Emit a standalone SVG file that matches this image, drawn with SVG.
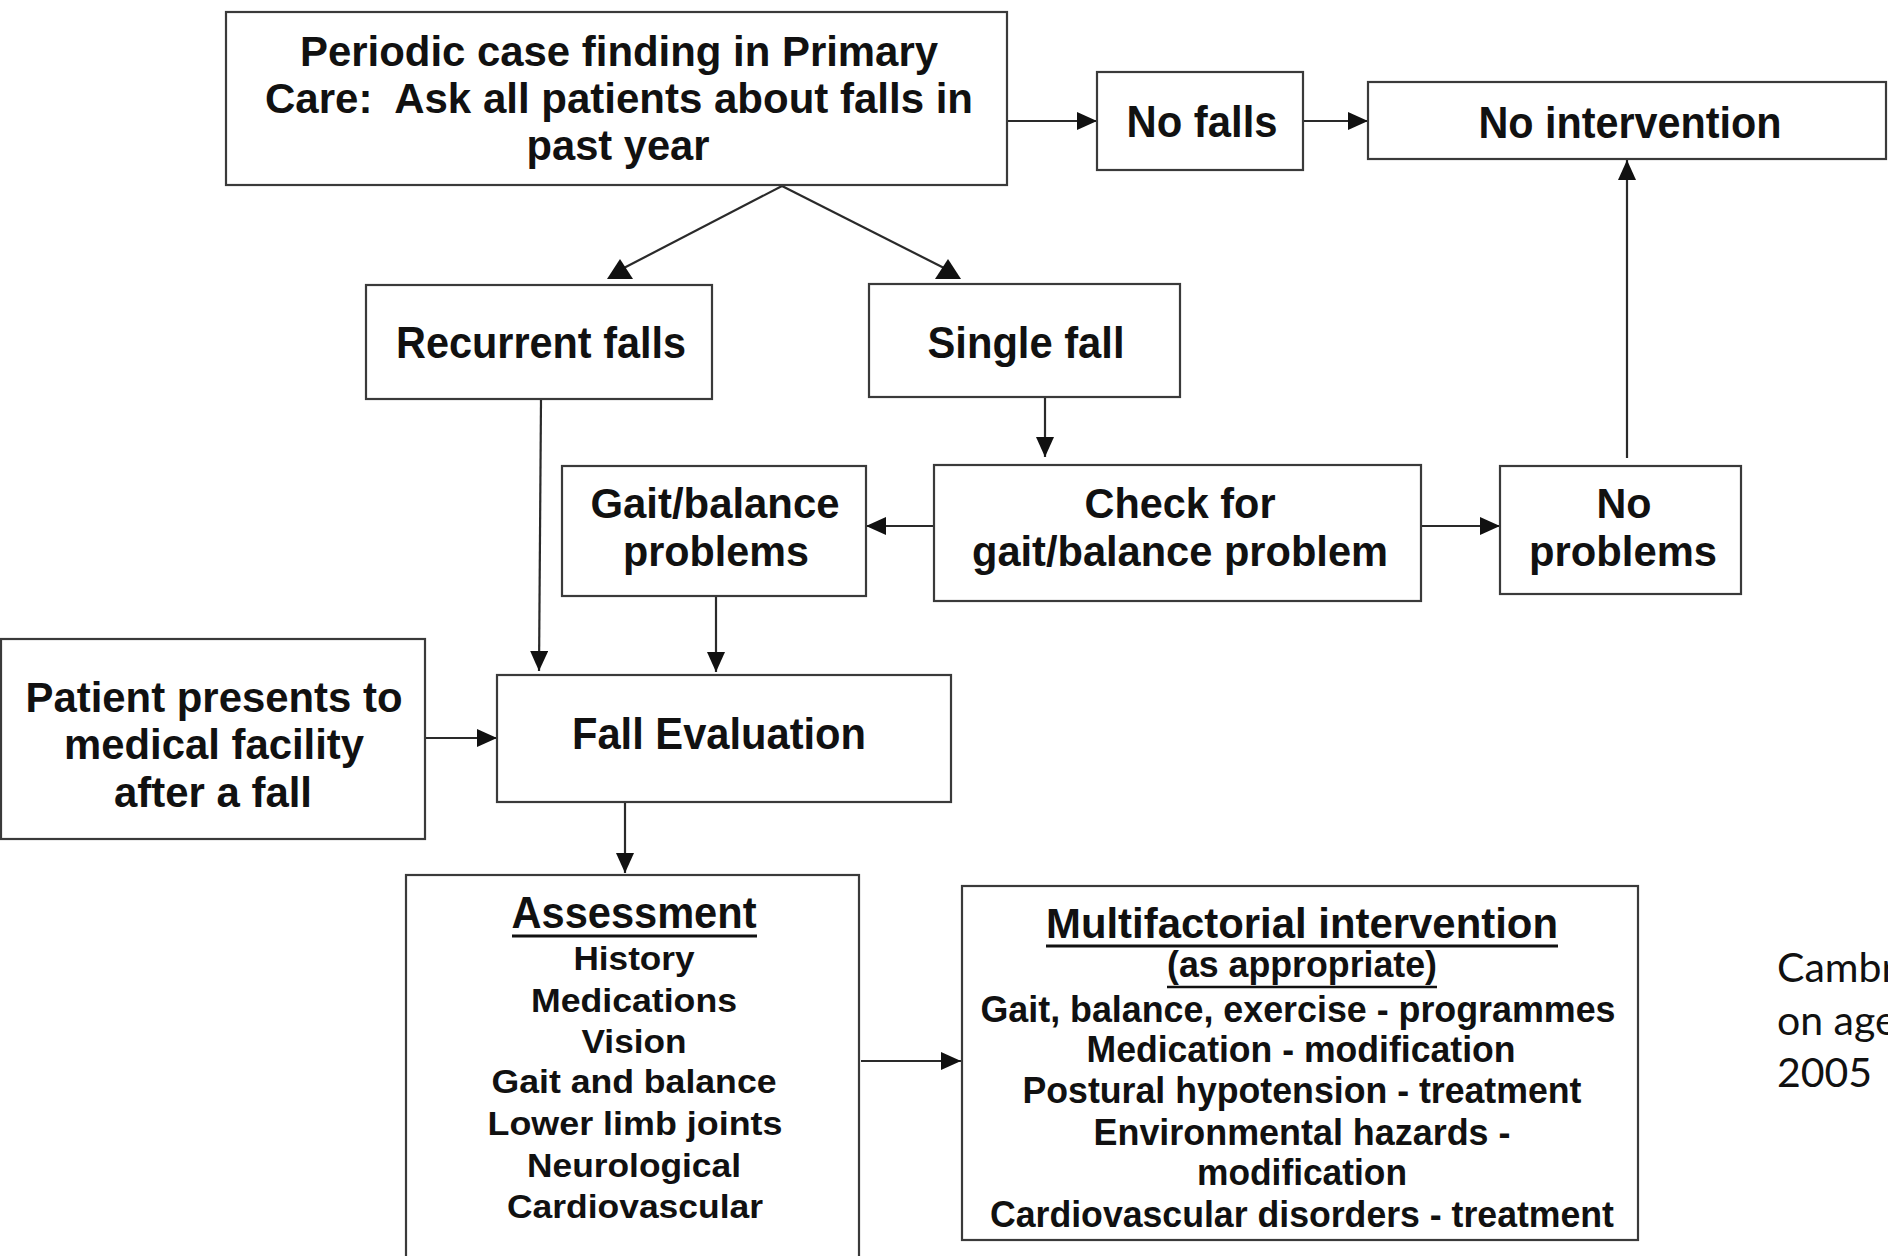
<svg xmlns="http://www.w3.org/2000/svg" width="1888" height="1256" viewBox="0 0 1888 1256">
  <style>
    .box { fill: #ffffff; stroke: #3a3a3a; stroke-width: 2.2; }
    .lbl { font-family: "Liberation Sans", Arial, sans-serif; font-weight: bold; fill: #111111; text-anchor: middle; }
    .big { font-size: 44px; }
    .mid { font-size: 42px; }
    .item { font-size: 34px; }
    .mf { font-size: 36px; }
    .conn { stroke: #2a2a2a; stroke-width: 2.2; fill: none; }
    .ul { stroke: #111111; stroke-width: 3; }
    .note { font-family: Lato, "Open Sans", sans-serif; font-size: 41px; fill: #111111; }
  </style>
  <defs>
    <marker id="arrow" markerUnits="userSpaceOnUse" markerWidth="20" markerHeight="18" refX="20" refY="9" orient="auto">
      <path d="M0,0 L20,9 L0,18 z" fill="#111111"/>
    </marker>
    <marker id="wedge" markerUnits="userSpaceOnUse" markerWidth="26" markerHeight="20" refX="13" refY="11" orient="0">
      <path d="M0,20 L26,20 L13,0 z" fill="#111111"/>
    </marker>
  </defs>

  <rect width="1888" height="1256" fill="#ffffff"/>

  <!-- connectors -->
  <g id="connectors">
    <line class="conn" x1="1007" y1="121" x2="1097" y2="121" marker-end="url(#arrow)"/>
    <line class="conn" x1="1303" y1="121" x2="1368" y2="121" marker-end="url(#arrow)"/>
    <line class="conn" x1="782" y1="186" x2="620" y2="270" marker-end="url(#wedge)"/>
    <line class="conn" x1="782" y1="186" x2="948" y2="270" marker-end="url(#wedge)"/>
    <line class="conn" x1="1045" y1="398" x2="1045" y2="457" marker-end="url(#arrow)"/>
    <line class="conn" x1="934" y1="526" x2="866" y2="526" marker-end="url(#arrow)"/>
    <line class="conn" x1="1421" y1="526" x2="1500" y2="526" marker-end="url(#arrow)"/>
    <line class="conn" x1="1627" y1="458" x2="1627" y2="160" marker-end="url(#arrow)"/>
    <line class="conn" x1="541" y1="400" x2="539" y2="671" marker-end="url(#arrow)"/>
    <line class="conn" x1="716" y1="597" x2="716" y2="672" marker-end="url(#arrow)"/>
    <line class="conn" x1="425" y1="738" x2="497" y2="738" marker-end="url(#arrow)"/>
    <line class="conn" x1="625" y1="803" x2="625" y2="873" marker-end="url(#arrow)"/>
    <line class="conn" x1="861" y1="1061" x2="961" y2="1061" marker-end="url(#arrow)"/>
  </g>

  <!-- nodes -->
  <g id="case-finding">
    <rect class="box" x="226" y="12" width="781" height="173"/>
    <text class="lbl mid" x="619" y="66" textLength="638" lengthAdjust="spacingAndGlyphs">Periodic case finding in Primary</text>
    <text class="lbl mid" x="619" y="113" textLength="708" lengthAdjust="spacingAndGlyphs" xml:space="preserve">Care:  Ask all patients about falls in</text>
    <text class="lbl mid" x="618" y="160" textLength="183" lengthAdjust="spacingAndGlyphs">past year</text>
  </g>

  <g id="no-falls">
    <rect class="box" x="1097" y="72" width="206" height="98"/>
    <text class="lbl big" x="1202" y="137" textLength="151" lengthAdjust="spacingAndGlyphs">No falls</text>
  </g>

  <g id="no-intervention">
    <rect class="box" x="1368" y="82" width="518" height="77"/>
    <text class="lbl big" x="1630" y="138" textLength="303" lengthAdjust="spacingAndGlyphs">No intervention</text>
  </g>

  <g id="recurrent-falls">
    <rect class="box" x="366" y="285" width="346" height="114"/>
    <text class="lbl big" x="541" y="358" textLength="290" lengthAdjust="spacingAndGlyphs">Recurrent falls</text>
  </g>

  <g id="single-fall">
    <rect class="box" x="869" y="284" width="311" height="113"/>
    <text class="lbl big" x="1026" y="358" textLength="197" lengthAdjust="spacingAndGlyphs">Single fall</text>
  </g>

  <g id="check-gait">
    <rect class="box" x="934" y="465" width="487" height="136"/>
    <text class="lbl mid" x="1180" y="518" textLength="191" lengthAdjust="spacingAndGlyphs">Check for</text>
    <text class="lbl mid" x="1180" y="566" textLength="416" lengthAdjust="spacingAndGlyphs">gait/balance problem</text>
  </g>

  <g id="gait-problems">
    <rect class="box" x="562" y="466" width="304" height="130"/>
    <text class="lbl mid" x="715" y="518" textLength="249" lengthAdjust="spacingAndGlyphs">Gait/balance</text>
    <text class="lbl mid" x="716" y="566" textLength="186" lengthAdjust="spacingAndGlyphs">problems</text>
  </g>

  <g id="no-problems">
    <rect class="box" x="1500" y="466" width="241" height="128"/>
    <text class="lbl mid" x="1624" y="518" textLength="55" lengthAdjust="spacingAndGlyphs">No</text>
    <text class="lbl mid" x="1623" y="566" textLength="188" lengthAdjust="spacingAndGlyphs">problems</text>
  </g>

  <g id="patient-presents">
    <rect class="box" x="1" y="639" width="424" height="200"/>
    <text class="lbl mid" x="214" y="712" textLength="377" lengthAdjust="spacingAndGlyphs">Patient presents to</text>
    <text class="lbl mid" x="214" y="759" textLength="300" lengthAdjust="spacingAndGlyphs">medical facility</text>
    <text class="lbl mid" x="213" y="807" textLength="198" lengthAdjust="spacingAndGlyphs">after a fall</text>
  </g>

  <g id="fall-evaluation">
    <rect class="box" x="497" y="675" width="454" height="127"/>
    <text class="lbl big" x="719" y="749" textLength="294" lengthAdjust="spacingAndGlyphs">Fall Evaluation</text>
  </g>

  <g id="assessment">
    <rect class="box" x="406" y="875" width="453" height="390"/>
    <text class="lbl big" x="634" y="928" textLength="245" lengthAdjust="spacingAndGlyphs">Assessment</text>
    <line class="ul" x1="512" y1="936" x2="757" y2="936"/>
    <text class="lbl item" x="634" y="970" textLength="121" lengthAdjust="spacingAndGlyphs">History</text>
    <text class="lbl item" x="634" y="1012" textLength="206" lengthAdjust="spacingAndGlyphs">Medications</text>
    <text class="lbl item" x="634" y="1053" textLength="105" lengthAdjust="spacingAndGlyphs">Vision</text>
    <text class="lbl item" x="634" y="1093" textLength="285" lengthAdjust="spacingAndGlyphs">Gait and balance</text>
    <text class="lbl item" x="635" y="1135" textLength="295" lengthAdjust="spacingAndGlyphs">Lower limb joints</text>
    <text class="lbl item" x="634" y="1177" textLength="214" lengthAdjust="spacingAndGlyphs">Neurological</text>
    <text class="lbl item" x="635" y="1218" textLength="256" lengthAdjust="spacingAndGlyphs">Cardiovascular</text>
  </g>

  <g id="multifactorial">
    <rect class="box" x="962" y="886" width="676" height="354"/>
    <text class="lbl mid" x="1302" y="938" textLength="512" lengthAdjust="spacingAndGlyphs">Multifactorial intervention</text>
    <line class="ul" x1="1046" y1="946" x2="1558" y2="946"/>
    <text class="lbl mf" x="1302" y="977" textLength="270" lengthAdjust="spacingAndGlyphs">(as appropriate)</text>
    <line class="ul" x1="1167" y1="987" x2="1437" y2="987" style="stroke-width:2.4"/>
    <text class="lbl mf" x="1298" y="1022" textLength="635" lengthAdjust="spacingAndGlyphs">Gait, balance, exercise - programmes</text>
    <text class="lbl mf" x="1301" y="1062" textLength="429" lengthAdjust="spacingAndGlyphs">Medication - modification</text>
    <text class="lbl mf" x="1302" y="1103" textLength="559" lengthAdjust="spacingAndGlyphs">Postural hypotension - treatment</text>
    <text class="lbl mf" x="1302" y="1145" textLength="417" lengthAdjust="spacingAndGlyphs">Environmental hazards -</text>
    <text class="lbl mf" x="1302" y="1185" textLength="210" lengthAdjust="spacingAndGlyphs">modification</text>
    <text class="lbl mf" x="1302" y="1227" textLength="624" lengthAdjust="spacingAndGlyphs">Cardiovascular disorders - treatment</text>
  </g>

  <!-- side note, running off the right edge -->
  <g id="source-note">
    <text class="note" x="1777" y="982">Cambr</text>
    <text class="note" x="1777" y="1035">on age</text>
    <text class="note" x="1777" y="1087">2005</text>
  </g>
</svg>
